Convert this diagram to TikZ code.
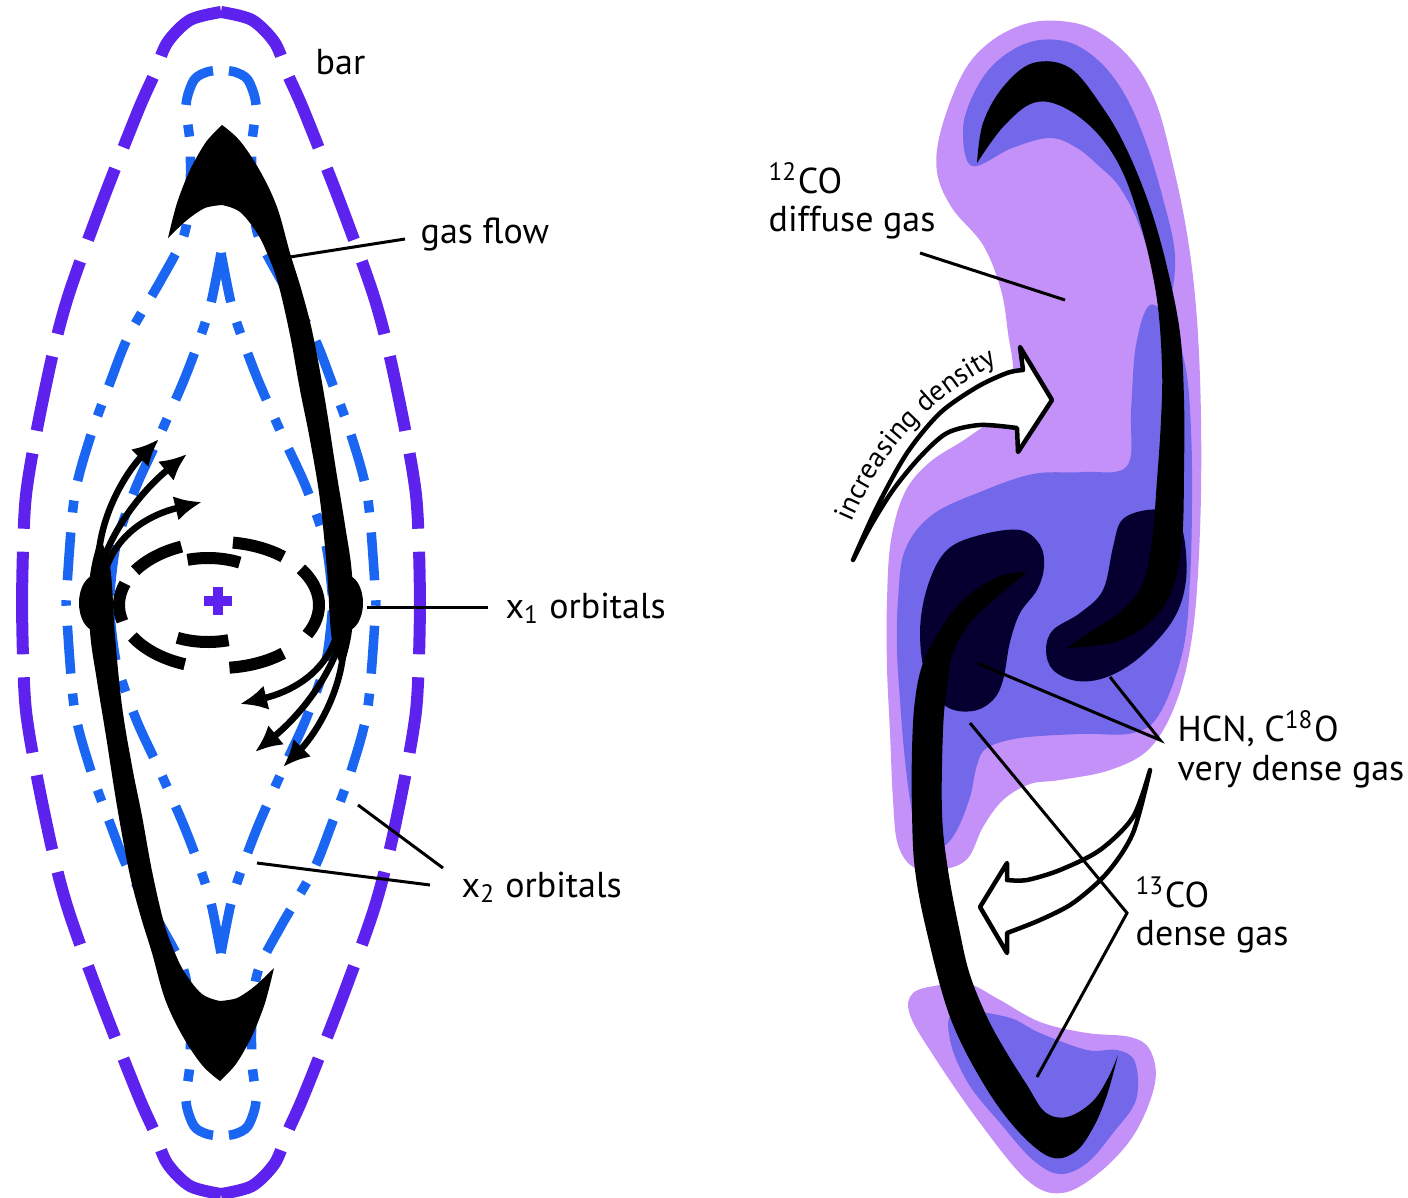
\documentclass[tikz,border=0pt]{standalone}
\usepackage{fontspec}
\setmainfont{PT Sans}
\usetikzlibrary{arrows.meta,decorations.text}

\definecolor{barpurple}{HTML}{5E22EE}
\definecolor{orbitblue}{HTML}{1A66F2}
\definecolor{gaslight}{HTML}{C391F8}
\definecolor{gasmid}{HTML}{7468EA}
\definecolor{gasdark}{HTML}{050030}

\newcommand{\lblfont}{\fontsize{3.6mm}{4.3mm}\selectfont}
\newcommand{\arrowfont}{\fontsize{2.85mm}{3.4mm}\selectfont}

\tikzset{
  lbl/.style={font=\lblfont, inner sep=0pt, anchor=base west},
  leader/.style={draw=black, line width=0.3mm},
  barline/.style={draw=barpurple, line width=1.2mm,
    dash pattern=on 7.9mm off 2.3mm on 7.6mm off 2.3mm on 7.6mm off 2.3mm on 7.6mm off 2.3mm on 7.6mm off 2.3mm on 7.6mm off 2.3mm on 20mm off 1mm},
  orbitout/.style={draw=orbitblue, line width=0.95mm,
    dash pattern=on 4.8mm off 2mm on 1.2mm off 2mm, dash phase=9.2mm},
  orbitin/.style={draw=orbitblue, line width=0.95mm,
    dash pattern=on 5mm off 2.1mm on 1.2mm off 2.1mm},
  xdash/.style={draw=black, line width=1.2mm},
  flowarrow/.style={draw=black, line width=0.65mm, -{Latex[length=2.7mm,width=2.5mm]}},
  hollowarrow/.style={fill=white, draw=black, line width=0.45mm, line join=round},
}

% one quarter of each closed orbit, drawn from the apex towards the equator
\newcommand{\barquarter}{%
  \draw[barline] plot[smooth] coordinates {(0,-591) (31,-583) (54,-560) (67,-528) (83,-492) (120,-398) (154,-303) (174,-223) (195,-108) (199,0)};}
\newcommand{\outerquarter}{%
  \draw[orbitout] plot[smooth] coordinates {(0,-533) (14,-531) (27,-523) (35,-498) (31,-460) (31,-413) (37,-368) (60,-323) (92,-268) (110,-223) (131,-165) (147,-103) (155,0)};}
\newcommand{\innerquarter}{%
  \draw[orbitin] plot[smooth] coordinates {(0,-350) (10,-300) (20,-268) (37,-223) (62,-166) (85,-116) (105,-58) (112,0)};}

% half of the gas stream: shock lane with its spike, the x1 point and the fanning flow
\newcommand{\gasflowhalf}{%
  \fill[black] plot[smooth, tension=0.6] coordinates {(222,125) (240,141) (260,171) (277,207) (290,253) (302,292) (313,335) (325,400) (336,470) (345,525) (352,575) (352,630) (343,668)}
    -- plot[smooth, tension=0.6] coordinates {(343,668) (332,640) (327,570) (320,500) (310,440) (300,390) (290,335) (278,283) (267,253) (257,233) (240,212) (222,205)}
    -- plot[smooth] coordinates {(222,205) (205,208) (187,220) (168,238)}
    -- plot[smooth] coordinates {(168,238) (177,203) (190,170) (206,142) (222,125)} -- cycle;
  \fill[black] (346,603) ellipse[x radius=17, y radius=28];
  \draw[flowarrow] (335,640) .. controls (322,675) and (290,692) .. (240,704);
  \draw[flowarrow] (338,648) .. controls (322,690) and (292,722) .. (255,752);
  \draw[flowarrow] (343,655) .. controls (338,700) and (312,738) .. (283,767);}

\begin{document}
\begin{tikzpicture}[x=0.1mm, y=-0.1mm]
\useasboundingbox (0,0) rectangle (1408,1197);
\fill[white] (0,0) rectangle (1408,1197);

% ---------------- left panel: bar potential ----------------
\foreach \sx/\sy in {1/1, -1/1, 1/-1, -1/-1}{
  \begin{scope}[shift={(221,603)}, xscale=\sx, yscale=\sy]
    \barquarter
    \outerquarter
    \innerquarter
  \end{scope}
}

% x2 orbits around the centre
\draw[xdash] ({219+100*cos(165)},{605+63*sin(165)}) arc[start angle=165, end angle=200, x radius=100, y radius=63];
\draw[xdash] ({219+100*cos(213)},{605+63*sin(213)}) arc[start angle=213, end angle=248, x radius=100, y radius=63];
\draw[xdash] ({219+100*cos(278)},{605+63*sin(278)}) arc[start angle=278, end angle=310, x radius=100, y radius=63];
\draw[xdash] ({219+100*cos(325)},{605+63*sin(325)}) arc[start angle=325, end angle=388, x radius=100, y radius=63];
\draw[xdash] ({219+100*cos(50)},{605+63*sin(50)}) arc[start angle=50, end angle=84, x radius=100, y radius=63];
\draw[xdash] ({219+100*cos(110)},{605+63*sin(110)}) arc[start angle=110, end angle=150, x radius=100, y radius=63];
\draw[xdash] ({208+70*cos(253)},{600+42*sin(253)}) arc[start angle=253, end angle=297, x radius=70, y radius=42];
\draw[xdash] ({208+70*cos(73)},{600+42*sin(73)}) arc[start angle=73, end angle=116, x radius=70, y radius=42];

% centre of the bar
\fill[barpurple] (204,596) rectangle (232,606);
\fill[barpurple] (213,587) rectangle (223,615);

% gas flow, point symmetric about the centre
\gasflowhalf
\begin{scope}[rotate around={180:(221,603)}]
  \gasflowhalf
\end{scope}

% labels of the left panel
\node[lbl] (barlbl) at (315,75) {bar};
\node[lbl] (gasflowlbl) at (420,243) {gas flow};
\node[lbl] (xonelbl) at (505,618) {x\textsubscript{1} orbitals};
\node[lbl] (xtwolbl) at (461,897) {x\textsubscript{2} orbitals};

\coordinate (gfa) at (290,257); \coordinate (gfb) at (405,239);
\coordinate (xoa) at (367,607); \coordinate (xob) at (488,607);
\coordinate (xta) at (358,805); \coordinate (xtb) at (443,868);
\coordinate (xtc) at (257,863); \coordinate (xtd) at (430,885);
\draw[leader] (gfa) -- (gfb);
\draw[leader] (xoa) -- (xob);
\draw[leader] (xta) -- (xtb);
\draw[leader] (xtc) -- (xtd);

% ---------------- right panel: molecular gas ----------------
% diffuse gas
\fill[gaslight] plot[smooth cycle, tension=0.6] coordinates {(963,73) (990,42) (1025,24) (1060,21) (1095,30) (1130,58) (1155,100) (1173,165) (1188,240) (1197,320) (1201,420) (1200,530) (1193,630) (1177,700) (1150,748) (1110,770) (1060,780) (1030,784) (1003,800) (983,827) (968,858) (945,869) (915,868) (898,845) (893,800) (890,733) (887,667) (887,600) (891,540) (905,492) (930,462) (967,438) (998,413) (1013,378) (1008,333) (1001,290) (983,245) (952,208) (937,172) (941,130)};
\fill[gaslight] plot[smooth cycle, tension=0.6] coordinates {(913,993) (940,985) (967,983) (1000,1000) (1040,1022) (1087,1033) (1130,1037) (1150,1050) (1155,1083) (1135,1133) (1100,1172) (1062,1193) (1027,1180) (980,1123) (935,1058) (910,1015)};

% dense gas
\fill[gasmid] plot[smooth cycle, tension=0.6] coordinates {(972,166) (963,130) (973,95) (995,63) (1030,42) (1068,42) (1100,62) (1125,95) (1145,140) (1162,195) (1175,255) (1168,300) (1150,255) (1135,215) (1118,185) (1100,167) (1077,148) (1050,138) (1012,148)};
\fill[gasmid] plot[smooth cycle, tension=0.6] coordinates {(1150,305) (1172,325) (1186,370) (1191,430) (1192,500) (1190,580) (1183,650) (1160,713) (1133,733) (1080,734) (1020,738) (987,748) (977,765) (970,797) (957,830) (943,847) (927,848) (913,815) (905,760) (900,700) (897,650) (898,600) (905,550) (932,515) (980,492) (1033,474) (1083,472) (1127,466) (1131,410) (1136,345)};
\fill[gasmid] plot[smooth cycle, tension=0.6] coordinates {(955,1012) (1007,1017) (1040,1033) (1087,1050) (1117,1050) (1135,1062) (1136,1100) (1113,1133) (1087,1163) (1060,1174) (1033,1160) (1000,1123) (968,1083) (950,1040)};

% very dense gas
\fill[gasdark] plot[smooth cycle, tension=0.6] coordinates {(920,632) (928,585) (947,550) (980,535) (1020,530) (1040,545) (1044,567) (1037,590) (1020,613) (1010,642) (1003,680) (993,700) (973,711) (947,707) (927,682)};
\fill[gasdark] plot[smooth cycle, tension=0.6] coordinates {(1046,650) (1053,630) (1080,613) (1103,590) (1113,547) (1122,520) (1147,510) (1170,513) (1183,532) (1186,580) (1173,620) (1140,657) (1107,677) (1077,681) (1053,670)};

% gas lanes
\fill[black] plot[smooth, tension=0.6] coordinates {(977,163) (983,123) (1003,87) (1033,63) (1070,68) (1103,108) (1127,150) (1150,207) (1167,267) (1180,333) (1184,400) (1184,470) (1182,540) (1172,590) (1150,622) (1115,642) (1067,648)}
  -- plot[smooth, tension=0.6] coordinates {(1067,648) (1090,632) (1120,612) (1142,585) (1152,540) (1157,480) (1161,420) (1162,367) (1157,300) (1143,233) (1123,173) (1097,133) (1063,107) (1033,103) (1003,127) (977,163)} -- cycle;
\fill[black] plot[smooth, tension=0.6] coordinates {(1027,572) (997,577) (963,600) (940,630) (923,663) (915,700) (912,750) (912,813) (915,870) (927,933) (950,1017) (983,1083) (1017,1130) (1050,1157) (1075,1152) (1093,1128) (1107,1095) (1118,1055)}
  -- plot[smooth, tension=0.6] coordinates {(1118,1055) (1108,1078) (1092,1102) (1067,1117) (1045,1112) (1027,1085) (1005,1050) (987,1017) (970,975) (960,933) (948,870) (942,813) (943,730) (947,687) (953,653) (970,623) (997,597) (1027,572)} -- cycle;

% density arrows
\filldraw[hollowarrow] plot[smooth] coordinates {(853,560) (877,507) (907,453) (940,413) (977,387) (1007,373) (1023,370)}
  -- (1020,347) -- (1052,400) -- (1018,452) -- (1017,428)
  -- plot[smooth] coordinates {(1017,428) (980,425) (947,433) (920,457) (893,490) (870,527) (853,560)} -- cycle;
\filldraw[hollowarrow] plot[smooth] coordinates {(1150,770) (1133,817) (1100,850) (1060,870) (1027,880) (1007,880)}
  -- (1007,863) -- (980,907) -- (1007,953) -- (1007,933)
  -- plot[smooth] coordinates {(1007,933) (1040,920) (1073,903) (1107,873) (1133,833) (1150,770)} -- cycle;
\path[postaction={decorate}, decoration={text along path, text align=center,
    text={|\arrowfont|increasing density}}]
  (846,535) .. controls (878,455) and (930,393) .. (1010,358);

% labels of the right panel
\node[lbl] (twelvecolbl) at (768,193) {\textsuperscript{12}CO};
\node[lbl] (diffuselbl) at (768,231) {diffuse gas};
\node[lbl] (hcnlbl) at (1177,741) {HCN, C\textsuperscript{18}O};
\node[lbl] (verydenselbl) at (1177,780) {very dense gas};
\node[lbl] (thirteencolbl) at (1135,907) {\textsuperscript{13}CO};
\node[lbl] (denselbl) at (1135,945) {dense gas};

\coordinate (dfa) at (920,253); \coordinate (dfb) at (1065,300);
\coordinate (hca) at (977,663); \coordinate (hcb) at (1110,677); \coordinate (hcc) at (1160,740);
\coordinate (tca) at (970,723); \coordinate (tcb) at (1037,1077); \coordinate (tcc) at (1127,913);
\draw[leader] (dfa) -- (dfb);
\draw[leader] (hca) -- (hcc) -- (hcb);
\draw[leader] (tca) -- (tcc) -- (tcb);
\end{tikzpicture}
\end{document}
